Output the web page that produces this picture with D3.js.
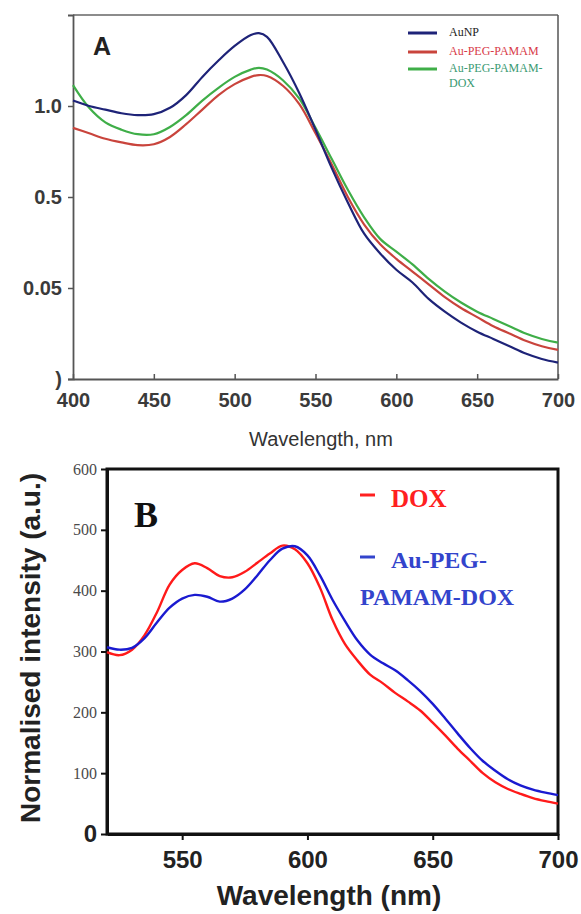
<!DOCTYPE html>
<html>
<head>
<meta charset="utf-8">
<script src="https://cdn.jsdelivr.net/npm/d3@7"></script>
<style>
  body { margin: 0; background: #fff; }
  svg { display: block; }
</style>
</head>
<body>
<svg></svg>
<script>
// ---- panel A data (absorbance) ----
var wavelengthsA = [400, 410, 420, 430, 440, 450, 460, 470, 480, 490, 500, 510, 515, 520, 530, 540, 550, 560, 570, 580, 590, 600, 610, 620, 630, 640, 650, 660, 670, 680, 690, 700];
var auNP       = [1.03, 1.00, 0.98, 0.96, 0.95, 0.955, 0.99, 1.06, 1.16, 1.25, 1.33, 1.39, 1.40, 1.38, 1.24, 1.07, 0.87, 0.66, 0.47, 0.30, 0.19, 0.10, 0.03, -0.06, -0.13, -0.19, -0.24, -0.28, -0.32, -0.36, -0.39, -0.41];
var auPegPamam = [0.88, 0.85, 0.82, 0.80, 0.785, 0.79, 0.83, 0.90, 0.98, 1.06, 1.12, 1.16, 1.17, 1.165, 1.11, 1.01, 0.85, 0.68, 0.50, 0.35, 0.24, 0.16, 0.09, 0.02, -0.05, -0.11, -0.16, -0.21, -0.25, -0.29, -0.32, -0.34];
var auPegPamamDox = [1.115, 0.99, 0.91, 0.87, 0.845, 0.845, 0.885, 0.95, 1.03, 1.10, 1.16, 1.20, 1.21, 1.20, 1.14, 1.04, 0.88, 0.71, 0.54, 0.39, 0.27, 0.20, 0.13, 0.05, -0.02, -0.08, -0.13, -0.17, -0.21, -0.25, -0.28, -0.30];
var xTicksA = [400, 450, 500, 550, 600, 650, 700];
var yTicksA = [-0.5, 0, 0.5, 1.0];
var yTickLabelsA = [")", "0.05", "0.5", "1.0"];
var legendA = ["AuNP", "Au-PEG-PAMAM", "Au-PEG-PAMAM-"];

// ---- panel B data (fluorescence) ----
var wavelengthsB = [520, 525, 530, 535, 540, 545, 550, 555, 560, 565, 570, 575, 580, 585, 590, 595, 600, 605, 610, 615, 620, 625, 630, 635, 640, 645, 650, 655, 660, 665, 670, 675, 680, 685, 690, 695, 700];
var dox    = [299, 294, 303, 327, 365, 410, 434, 445, 437, 424, 422, 431, 446, 461, 474, 468, 445, 405, 352, 312, 285, 262, 248, 232, 218, 203, 183, 162, 140, 120, 100, 85, 74, 66, 59, 54, 50];
var doxConj = [307, 303, 306, 322, 348, 372, 387, 393, 390, 382, 387, 402, 425, 450, 469, 473, 458, 425, 385, 350, 318, 295, 281, 269, 253, 235, 214, 190, 165, 141, 120, 104, 90, 80, 73, 68, 64];
var xTicksB = [550, 600, 650, 700];
var yTicksB = [0, 100, 200, 300, 400, 500, 600];

var svg = d3.select("svg")
    .attr("width", 581)
    .attr("height", 914);

svg.append("rect").attr("width", 581).attr("height", 914).attr("fill", "#fff");

// =============== Panel A ===============
var xA = d3.scaleLinear().domain([400, 700]).range([73, 558]);
var yA = d3.scaleLinear().domain([-0.5, 1.5]).range([379, 15]);

var gA = svg.append("g");

// frame (top + right)
gA.append("line").attr("x1", 73).attr("x2", 558).attr("y1", 15).attr("y2", 15)
    .attr("stroke", "#666").attr("stroke-width", 1.5);
gA.append("line").attr("x1", 558).attr("x2", 558).attr("y1", 15).attr("y2", 379)
    .attr("stroke", "#555").attr("stroke-width", 1.5);

var axA_x = gA.append("g")
    .attr("transform", "translate(0,379)")
    .call(d3.axisBottom(xA).tickValues(xTicksA).tickSizeInner(-5).tickSizeOuter(0).tickPadding(14));
var axA_y = gA.append("g")
    .attr("transform", "translate(73,0)")
    .call(d3.axisLeft(yA).tickValues(yTicksA).tickFormat(function(d, i) { return yTickLabelsA[i]; })
          .tickSize(5).tickPadding(6));

[axA_x, axA_y].forEach(function(ax) {
  ax.select(".domain").attr("stroke", "#555").attr("stroke-width", 1.8);
  ax.selectAll(".tick line").attr("stroke", "#555").attr("stroke-width", 1.5);
  ax.selectAll(".tick text")
      .attr("font-family", "Liberation Sans, Arial, sans-serif")
      .attr("font-size", 20)
      .attr("font-weight", "bold")
      .attr("fill", "#3a3a3a");
});

var lineA = d3.line()
    .x(function(d, i) { return xA(wavelengthsA[i]); })
    .y(function(d) { return yA(d); })
    .curve(d3.curveCatmullRom.alpha(0.5));

var seriesA = [
  {values: auPegPamam, color: "#c9443c"},
  {values: auPegPamamDox, color: "#3fae48"},
  {values: auNP, color: "#1e2378"}
];
seriesA.forEach(function(s) {
  gA.append("path")
      .attr("d", lineA(s.values))
      .attr("fill", "none")
      .attr("stroke", s.color)
      .attr("stroke-width", 2.2);
});

gA.append("text").attr("x", 93).attr("y", 55)
    .attr("font-family", "Liberation Sans, Arial, sans-serif")
    .attr("font-size", 25).attr("font-weight", "bold").attr("fill", "#222")
    .text("A");

// legend A
var legColorsA = ["#1e2378", "#c9443c", "#3fae48"];
var legTextColorsA = ["#222", "#d83a48", "#3a9a72"];
var legYA = [33, 52, 69];
legendA.forEach(function(name, i) {
  gA.append("line").attr("x1", 408).attr("x2", 437).attr("y1", legYA[i]).attr("y2", legYA[i])
      .attr("stroke", legColorsA[i]).attr("stroke-width", 3);
  gA.append("text").attr("x", 449).attr("y", legYA[i] + 3)
      .attr("font-family", "Liberation Serif, Times New Roman, serif")
      .attr("font-size", 12).attr("fill", legTextColorsA[i])
      .text(name);
});
gA.append("text").attr("x", 449).attr("y", 87)
    .attr("font-family", "Liberation Serif, Times New Roman, serif")
    .attr("font-size", 12).attr("fill", legTextColorsA[2])
    .text("DOX");

gA.append("text").attr("x", 321).attr("y", 446)
    .attr("text-anchor", "middle")
    .attr("font-family", "Liberation Sans, Arial, sans-serif")
    .attr("font-size", 20).attr("fill", "#333")
    .text("Wavelength, nm");

// =============== Panel B ===============
var xB = d3.scaleLinear().domain([520, 700]).range([107, 558]);
var yB = d3.scaleLinear().domain([0, 600]).range([834, 469]);

var gB = svg.append("g");

gB.append("rect")
    .attr("x", 107).attr("y", 469).attr("width", 451).attr("height", 365)
    .attr("fill", "none").attr("stroke", "#111").attr("stroke-width", 3);

var axB_x = gB.append("g")
    .attr("transform", "translate(0,834)")
    .call(d3.axisBottom(xB).tickValues(xTicksB).tickSizeInner(6).tickSizeOuter(0).tickPadding(11));
var axB_y = gB.append("g")
    .attr("transform", "translate(107,0)")
    .call(d3.axisLeft(yB).tickValues(yTicksB).tickSizeInner(6).tickSizeOuter(0).tickPadding(4));

[axB_x, axB_y].forEach(function(ax) {
  ax.select(".domain").attr("stroke", "#111").attr("stroke-width", 3);
  ax.selectAll(".tick line").attr("stroke", "#111").attr("stroke-width", 2);
});
axB_x.selectAll(".tick text")
    .attr("font-family", "Liberation Sans, Arial, sans-serif")
    .attr("font-size", 24).attr("font-weight", "bold").attr("fill", "#222");
axB_y.selectAll(".tick text")
    .attr("font-family", "Liberation Serif, Times New Roman, serif")
    .attr("font-size", 16).attr("fill", "#4a4a4a");
axB_y.selectAll(".tick text").filter(function(d) { return d === 0; })
    .attr("font-family", "Liberation Sans, Arial, sans-serif")
    .attr("font-size", 24).attr("font-weight", "bold").attr("fill", "#222");

var lineB = d3.line()
    .x(function(d, i) { return xB(wavelengthsB[i]); })
    .y(function(d) { return yB(d); })
    .curve(d3.curveCatmullRom.alpha(0.5));

gB.append("path").attr("d", lineB(dox))
    .attr("fill", "none").attr("stroke", "#ff1a1a").attr("stroke-width", 2.4);
gB.append("path").attr("d", lineB(doxConj))
    .attr("fill", "none").attr("stroke", "#1a1ad0").attr("stroke-width", 2.4);

gB.append("text").attr("x", 134).attr("y", 527)
    .attr("font-family", "Liberation Serif, Times New Roman, serif")
    .attr("font-size", 36).attr("font-weight", "bold").attr("fill", "#111")
    .text("B");

// legend B
gB.append("line").attr("x1", 360).attr("x2", 375).attr("y1", 495).attr("y2", 495)
    .attr("stroke", "#ff2020").attr("stroke-width", 3);
gB.append("text").attr("x", 391).attr("y", 507)
    .attr("font-family", "Liberation Serif, Times New Roman, serif")
    .attr("font-size", 25).attr("font-weight", "bold").attr("fill", "#ff2020")
    .text("DOX");
gB.append("line").attr("x1", 360).attr("x2", 375).attr("y1", 557).attr("y2", 557)
    .attr("stroke", "#3344cc").attr("stroke-width", 3);
gB.append("text").attr("x", 391).attr("y", 568)
    .attr("font-family", "Liberation Serif, Times New Roman, serif")
    .attr("font-size", 24).attr("font-weight", "bold").attr("fill", "#3344cc")
    .text("Au-PEG-");
gB.append("text").attr("x", 360).attr("y", 605)
    .attr("font-family", "Liberation Serif, Times New Roman, serif")
    .attr("font-size", 24).attr("font-weight", "bold").attr("fill", "#3344cc")
    .text("PAMAM-DOX");

// axis titles
gB.append("text").attr("x", 329).attr("y", 905)
    .attr("text-anchor", "middle")
    .attr("font-family", "Liberation Sans, Arial, sans-serif")
    .attr("font-size", 28).attr("font-weight", "bold").attr("fill", "#222")
    .text("Wavelength (nm)");
gB.append("text")
    .attr("transform", "translate(40,648) rotate(-90)")
    .attr("text-anchor", "middle")
    .attr("font-family", "Liberation Sans, Arial, sans-serif")
    .attr("font-size", 28).attr("font-weight", "bold").attr("fill", "#222")
    .text("Normalised intensity (a.u.)");
</script>
</body>
</html>
